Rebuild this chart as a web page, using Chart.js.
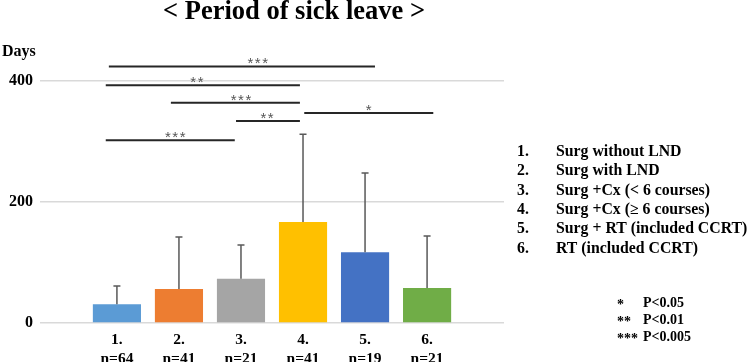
<!DOCTYPE html>
<html>
<head>
<meta charset="utf-8">
<script src="https://cdn.jsdelivr.net/npm/chart.js@4"></script>
<style>
html, body { margin: 0; padding: 0; background: #fff; }
</style>
</head>
<body>
<canvas id="myChart" width="749" height="362"></canvas>
<script>
'use strict'
const groups = [1, 2, 3, 4, 5, 6]
const nCounts = [64, 41, 21, 41, 19, 21]
const meanDays = [31, 56, 73, 167, 117, 58]
const upperDays = [61, 142, 129, 312, 248, 144]
const barColors = ['#5B9BD5', '#ED7D31', '#A5A5A5', '#FFC000', '#4472C4', '#70AD47']
const groupNames = [
    'Surg without LND',
    'Surg with LND',
    'Surg +Cx (< 6 courses)',
    'Surg +Cx (\u2265 6 courses)',
    'Surg + RT (included CCRT)',
    'RT (included CCRT)'
]
const yTicks = [0, 200, 400]

// significance brackets (group index from / to, height in days)
const bracketFrom = [0.87, 0.82, 1.87, 4.02, 2.92, 0.82]
const bracketTo = [5.16, 3.95, 3.95, 6.10, 3.95, 2.90]
const bracketDays = [424, 393, 364, 347, 334, 302]
const bracketStars = ['***', '**', '***', '*', '**', '***']
const bracketStarAt = [3.27, 2.29, 3.0, 5.06, 3.42, 1.94]

const pLevels = ['*', '**', '***']
const pLabels = ['P<0.05', 'P<0.01', 'P<0.005']

const serif = 'Liberation Serif'

const errorBars = {
    id: 'errorBars',
    afterDatasetsDraw(chart) {
        const ctx = chart.ctx
        const y = chart.scales.y
        const meta = chart.getDatasetMeta(0)
        ctx.save()
        ctx.strokeStyle = '#595959'
        ctx.lineWidth = 1.5
        meta.data.forEach((bar, i) => {
            const top = y.getPixelForValue(upperDays[i])
            ctx.beginPath()
            ctx.moveTo(bar.x, bar.y)
            ctx.lineTo(bar.x, top)
            ctx.moveTo(bar.x - 3.5, top)
            ctx.lineTo(bar.x + 3.5, top)
            ctx.stroke()
        })
        ctx.restore()
    }
}

const brackets = {
    id: 'brackets',
    afterDraw(chart) {
        const ctx = chart.ctx
        const x = chart.scales.x
        const y = chart.scales.y
        ctx.save()
        ctx.strokeStyle = '#262626'
        ctx.lineWidth = 2
        ctx.fillStyle = '#555'
        ctx.font = `15px 'Liberation Sans'`
        ctx.letterSpacing = '1.5px'
        ctx.textAlign = 'center'
        ctx.textBaseline = 'alphabetic'
        bracketDays.forEach((d, i) => {
            const py = y.getPixelForValue(d)
            ctx.beginPath()
            ctx.moveTo(x.getPixelForValue(bracketFrom[i]), py)
            ctx.lineTo(x.getPixelForValue(bracketTo[i]), py)
            ctx.stroke()
            ctx.fillText(bracketStars[i], x.getPixelForValue(bracketStarAt[i]) + 0.75, py + 2)
        })
        ctx.restore()
    }
}

const texts = {
    id: 'texts',
    afterDraw(chart) {
        const ctx = chart.ctx
        ctx.save()
        ctx.fillStyle = '#000'
        ctx.textBaseline = 'middle'
        ctx.textAlign = 'left'

        ctx.font = `bold 26.5px '${serif}'`
        ctx.fillText('< Period of sick leave >', 163, 12)

        ctx.font = `bold 16px '${serif}'`
        ctx.fillText('Days', 2, 52)

        ctx.font = `bold 15.8px '${serif}'`
        groupNames.forEach((name, i) => {
            const py = 152 + i * 19.3
            ctx.fillText(groups[i] + '.', 517, py)
            ctx.fillText(name, 556, py)
        })

        ctx.font = `bold 14px '${serif}'`
        pLevels.forEach((s, i) => {
            const py = 303 + i * 17
            ctx.fillText(s, 617, py + 2)
            ctx.fillText(pLabels[i], 643, py)
        })
        ctx.restore()
    }
}

const ctx = document.getElementById('myChart')

new Chart(ctx, {
    type: 'bar',
    data: {
        datasets: [{
            data: groups.map((g, i) => ({ x: g, y: meanDays[i] })),
            backgroundColor: barColors,
            borderWidth: 0,
            barPercentage: 0.97,
            categoryPercentage: 0.8,
        }],
    },
    options: {
        responsive: false,
        animation: false,
        devicePixelRatio: 1,
        layout: { padding: { top: 81, right: 245, left: 0, bottom: 0 } },
        plugins: {
            legend: { display: false },
            tooltip: { enabled: false },
        },
        scales: {
            x: {
                type: 'linear',
                offset: false,
                min: -0.24,
                max: 7.24,
                grid: { display: false },
                border: { display: false },
                afterBuildTicks: (scale) => {
                    scale.ticks = groups.map((g) => ({ value: g }))
                },
                afterFit: (scale) => { scale.height = 39 },
                ticks: {
                    autoSkip: false,
                    maxRotation: 0,
                    padding: 0,
                    color: '#000',
                    font: { family: serif, weight: 'bold', size: 15.5, lineHeight: 1.2 },
                    callback: (value) => [value + '.', 'n=' + nCounts[groups.indexOf(value)]],
                },
            },
            y: {
                min: 0,
                max: 400,
                afterBuildTicks: (scale) => {
                    scale.ticks = yTicks.map((v) => ({ value: v }))
                },
                afterFit: (scale) => { scale.width = 40 },
                grid: { color: '#d9d9d9', lineWidth: 1.5, drawTicks: false },
                border: { display: false },
                ticks: {
                    padding: 7,
                    color: '#000',
                    font: { family: serif, weight: 'bold', size: 16 },
                },
            },
        },
    },
    plugins: [errorBars, brackets, texts],
})
</script>
</body>
</html>
